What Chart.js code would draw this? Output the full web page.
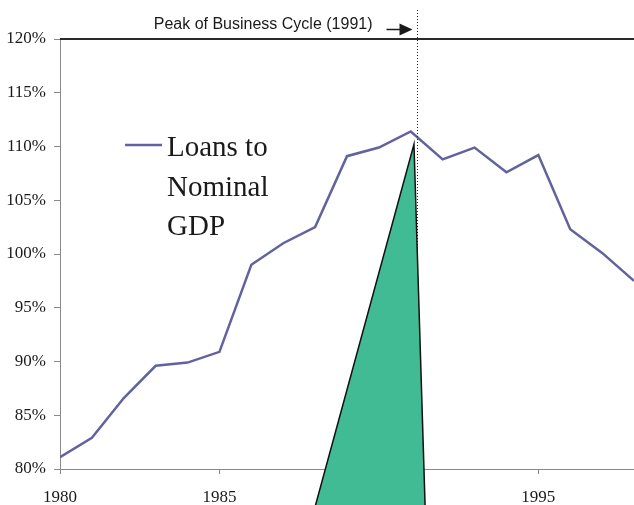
<!DOCTYPE html>
<html>
<head>
<meta charset="utf-8">
<script src="https://cdn.jsdelivr.net/npm/chart.js@4"></script>
<style>
  html, body { margin: 0; padding: 0; background: #fff; }
  #wrap { width: 634px; height: 505px; }
</style>
</head>
<body>
<div id="wrap"><canvas id="loansChart" width="634" height="505"></canvas></div>
<script>
const years = [1980, 1981, 1982, 1983, 1984, 1985, 1986, 1987, 1988, 1989,
               1990, 1991, 1992, 1993, 1994, 1995, 1996, 1997, 1998];
const loansToGdp = [81.1, 82.9, 86.6, 89.6, 89.9, 90.9, 99.0, 101.0, 102.5, 109.1,
                    109.9, 111.4, 108.8, 109.9, 107.6, 109.2, 102.3, 100.1, 97.5];
const seriesLabel = ['Loans to', 'Nominal', 'GDP'];
const yTicks = [80, 85, 90, 95, 100, 105, 110, 115, 120];
const xTicks = [1980, 1985, 1990, 1995];
const peakYear = 1991.2;
const peakText = 'Peak of Business Cycle (1991)';
// wedge drawn under the peak
const wedgeX = [1988.0, 1991.1, 1991.45];
const wedgeY = [76.5, 110.2, 76.5];

const lineColor = '#62629f';
const wedgeColor = '#40bb93';
const axisGray = '#8a8a8a';
const serif = '"Liberation Serif", "Times New Roman", serif';
const sans = '"Liberation Sans", Arial, sans-serif';

const extras = {
    id: 'extras',
    afterDatasetsDraw(chart) {
        const { ctx, chartArea: area, scales: { x, y } } = chart;
        ctx.save();

        // top frame line
        ctx.strokeStyle = '#2a2a2a';
        ctx.lineWidth = 2;
        ctx.beginPath();
        ctx.moveTo(area.left, area.top);
        ctx.lineTo(area.right, area.top);
        ctx.stroke();

        // dotted peak marker
        const px = Math.round(x.getPixelForValue(peakYear)) + 0.5;
        ctx.strokeStyle = '#222';
        ctx.lineWidth = 1;
        ctx.setLineDash([1, 2]);
        ctx.beginPath();
        ctx.moveTo(px, 10);
        ctx.lineTo(px, area.bottom);
        ctx.stroke();
        ctx.setLineDash([]);

        // wedge
        ctx.beginPath();
        wedgeX.forEach((v, i) => {
            const wx = x.getPixelForValue(v);
            const wy = y.getPixelForValue(wedgeY[i]);
            if (i === 0) ctx.moveTo(wx, wy); else ctx.lineTo(wx, wy);
        });
        ctx.closePath();
        ctx.fillStyle = wedgeColor;
        ctx.fill();
        ctx.strokeStyle = '#111';
        ctx.lineWidth = 1.5;
        ctx.stroke();

        // annotation text + arrow
        ctx.fillStyle = '#1a1a1a';
        ctx.font = '16px ' + sans;
        ctx.textAlign = 'right';
        ctx.textBaseline = 'middle';
        ctx.fillText(peakText, px - 45, 25);
        ctx.strokeStyle = '#1a1a1a';
        ctx.lineWidth = 1.5;
        ctx.beginPath();
        ctx.moveTo(px - 31, 29.5);
        ctx.lineTo(px - 16, 29.5);
        ctx.stroke();
        ctx.beginPath();
        ctx.moveTo(px - 5, 29.5);
        ctx.lineTo(px - 18, 23.5);
        ctx.lineTo(px - 18, 35.5);
        ctx.closePath();
        ctx.fill();

        // legend
        ctx.strokeStyle = lineColor;
        ctx.lineWidth = 2.5;
        ctx.beginPath();
        ctx.moveTo(125, 145);
        ctx.lineTo(162, 145);
        ctx.stroke();
        ctx.fillStyle = '#1a1a1a';
        ctx.font = '29px ' + serif;
        ctx.textAlign = 'left';
        ctx.textBaseline = 'alphabetic';
        seriesLabel.forEach((t, i) => ctx.fillText(t, 167, 156 + i * 39.5));

        ctx.restore();
    }
};

new Chart(document.getElementById('loansChart'), {
    type: 'line',
    data: {
        labels: years,
        datasets: [{
            label: seriesLabel.join(' '),
            data: years.map((yr, i) => ({ x: yr, y: loansToGdp[i] })),
            borderColor: lineColor,
            borderWidth: 2.5,
            pointRadius: 0,
            tension: 0,
            fill: false,
        }],
    },
    options: {
        responsive: false,
        animation: false,
        layout: { padding: { top: 39, right: 0, left: 0, bottom: 0 } },
        plugins: {
            legend: { display: false },
            tooltip: { enabled: false },
        },
        scales: {
            x: {
                type: 'linear',
                min: 1980,
                max: 1998,
                afterBuildTicks: scale => { scale.ticks = xTicks.map(v => ({ value: v })); },
                afterFit: scale => { scale.height = 36; },
                grid: { drawOnChartArea: false, color: axisGray, tickLength: 5 },
                border: { color: axisGray, width: 1 },
                ticks: {
                    color: '#1a1a1a',
                    padding: 13,
                    maxRotation: 0,
                    font: { family: serif, size: 17 },
                    callback: v => String(v),
                },
            },
            y: {
                min: 80,
                max: 120,
                afterBuildTicks: scale => { scale.ticks = yTicks.map(v => ({ value: v })); },
                afterFit: scale => { scale.width = 60; },
                grid: { drawOnChartArea: false, color: axisGray, tickLength: 6 },
                border: { color: axisGray, width: 1 },
                ticks: {
                    color: '#1a1a1a',
                    padding: 8,
                    font: { family: serif, size: 17 },
                    callback: v => v + '%',
                },
            },
        },
    },
    plugins: [extras],
});
</script>
</body>
</html>
